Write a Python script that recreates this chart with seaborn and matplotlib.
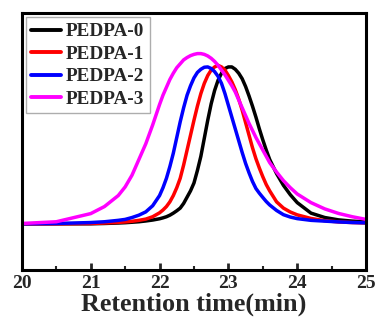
import numpy as np
import pandas as pd
import matplotlib
matplotlib.use("Agg")
import matplotlib.pyplot as plt
from matplotlib.ticker import MultipleLocator
import seaborn as sns

# ---- data ----
time_min = [20.0, 20.5, 21.0, 21.2, 21.4, 21.5, 21.6, 21.7, 21.8, 21.9,
            22.00, 22.05, 22.10, 22.15, 22.20, 22.25, 22.30, 22.35, 22.40, 22.45,
            22.50, 22.55, 22.60, 22.65, 22.70, 22.75, 22.80, 22.85, 22.90, 22.95,
            23.00, 23.05, 23.10, 23.15, 23.20, 23.25, 23.30, 23.35, 23.40, 23.45,
            23.50, 23.55, 23.60,
            23.7, 23.8, 23.9, 24.0, 24.2, 24.4, 24.6, 24.8, 25.0]

pedpa_0 = [0.0, 0.0, 0.0, 0.002, 0.005, 0.007, 0.010, 0.013, 0.018, 0.024,
           0.032, 0.038, 0.045, 0.055, 0.068, 0.083, 0.10, 0.13, 0.17, 0.21,
           0.26, 0.34, 0.43, 0.545, 0.66, 0.765, 0.85, 0.915, 0.96, 0.99,
           1.00, 1.00, 0.985, 0.96, 0.925, 0.875, 0.815, 0.75, 0.68, 0.605,
           0.535, 0.47, 0.41,
           0.32, 0.245, 0.185, 0.135, 0.068, 0.040, 0.025, 0.017, 0.012]

pedpa_1 = [0.0, 0.0, 0.002, 0.005, 0.009, 0.012, 0.016, 0.022, 0.030, 0.045,
           0.070, 0.088, 0.11, 0.14, 0.18, 0.23, 0.29, 0.375, 0.47, 0.565,
           0.66, 0.75, 0.83, 0.895, 0.945, 0.98, 1.00, 1.01, 1.00, 0.98,
           0.945, 0.905, 0.855, 0.795, 0.725, 0.645, 0.565, 0.485, 0.415, 0.355,
           0.30, 0.25, 0.21,
           0.14, 0.10, 0.075, 0.057, 0.034, 0.020, 0.012, 0.008, 0.005]

pedpa_2 = [0.0, 0.002, 0.008, 0.013, 0.022, 0.028, 0.040, 0.055, 0.076, 0.115,
           0.18, 0.23, 0.29, 0.365, 0.45, 0.55, 0.65, 0.74, 0.82, 0.88,
           0.93, 0.965, 0.985, 0.998, 1.00, 0.99, 0.97, 0.94, 0.895, 0.83,
           0.755, 0.68, 0.605, 0.53, 0.455, 0.385, 0.325, 0.27, 0.225, 0.195,
           0.168, 0.142, 0.12,
           0.085, 0.058, 0.043, 0.033, 0.022, 0.017, 0.012, 0.008, 0.006]

pedpa_3 = [0.002, 0.013, 0.065, 0.11, 0.18, 0.235, 0.31, 0.41, 0.51, 0.63,
           0.76, 0.82, 0.87, 0.92, 0.96, 0.995, 1.02, 1.045, 1.06, 1.072,
           1.08, 1.085, 1.085, 1.08, 1.07, 1.055, 1.035, 1.01, 0.98, 0.95,
           0.915, 0.88, 0.84, 0.79, 0.74, 0.69, 0.64, 0.595, 0.55, 0.51,
           0.47, 0.43, 0.39,
           0.33, 0.275, 0.23, 0.19, 0.135, 0.095, 0.066, 0.045, 0.028]

sample_names = ["PEDPA-0", "PEDPA-1", "PEDPA-2", "PEDPA-3"]
series = [pedpa_0, pedpa_1, pedpa_2, pedpa_3]
colors = ["#000000", "#ff0000", "#0000ff", "#ff00ff"]
x_ticks = [20, 21, 22, 23, 24, 25]

frames = []
for name, vals in zip(sample_names, series):
    frames.append(pd.DataFrame({"time": time_min, "signal": vals, "sample": name}))
df = pd.concat(frames, ignore_index=True)

# ---- style ----
sns.set_theme(style="ticks")
plt.rcParams["font.family"] = ["Liberation Serif", "DejaVu Serif"]
plt.rcParams["font.weight"] = "bold"

fig = plt.figure(figsize=(3.77, 3.20), dpi=100)
ax = fig.add_axes([0.058, 0.157, 0.913, 0.801])

sns.lineplot(data=df, x="time", y="signal", hue="sample",
             palette=dict(zip(sample_names, colors)), linewidth=2.5,
             ax=ax, sort=False, estimator=None)

ax.set_xlim(20, 25)
ax.set_ylim(-0.293, 1.341)
ax.set_xticks(x_ticks)
ax.set_xticklabels([str(t) for t in x_ticks])
ax.xaxis.set_minor_locator(MultipleLocator(0.5))
ax.set_yticks([])
ax.tick_params(axis="x", which="major", direction="in", length=5, width=2,
               pad=4, labelsize=14)
ax.tick_params(axis="x", which="minor", direction="in", length=3, width=1.5)
for lab in ax.get_xticklabels():
    lab.set_fontweight("bold")
ax.set_xlabel("Retention time(min)", fontsize=18.8, fontweight="bold", labelpad=0)
ax.set_ylabel("")

for sp in ax.spines.values():
    sp.set_visible(True)
    sp.set_linewidth(2.2)
    sp.set_color("black")

leg = ax.legend(loc="upper left", frameon=True, fancybox=False,
                prop={"family": "Liberation Serif", "weight": "bold", "size": 13.8},
                handlelength=1.55, handletextpad=0.25, labelspacing=0.26,
                borderaxespad=0.2, borderpad=0.3)
leg.get_frame().set_edgecolor("#999999")
leg.get_frame().set_linewidth(1.0)
for line in leg.get_lines():
    line.set_linewidth(2.8)

fig.savefig("out.png", dpi=100)
